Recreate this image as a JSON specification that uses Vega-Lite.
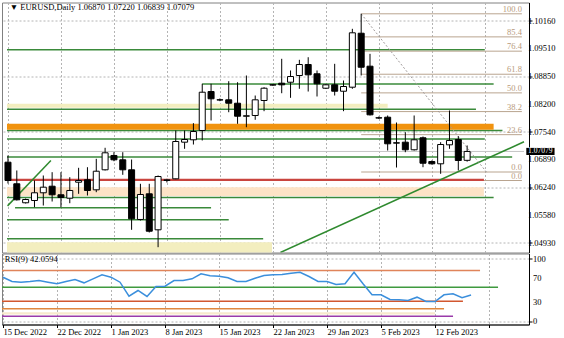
{
  "$schema": "https://vega.github.io/schema/vega-lite/v6.json",
  "padding": {"left": -1, "top": 1.5, "right": 0, "bottom": 0},
  "background": "white",
  "spacing": 1,
  "bounds": "flush",
  "config": {
    "view": {"stroke": "#808080", "strokeWidth": 1},
    "axis": {"labelFont": "Liberation Sans Narrow", "labelFontSize": 8.5, "labelColor": "#000000", "tickColor": "#000000", "domainColor": "#000000", "gridColor": "#b4b4b4", "gridDash": [2, 2], "gridWidth": 1, "title": null, "labelOverlap": false, "labelFlush": false},
    "text": {"font": "Liberation Sans Narrow"}
  },
  "datasets": {
    "candles": [
      {"bar": 0, "open": 1.06826, "high": 1.06984, "low": 1.06325, "close": 1.06395},
      {"bar": 1, "open": 1.06318, "high": 1.06631, "low": 1.05925, "close": 1.05941},
      {"bar": 2, "open": 1.05871, "high": 1.05972, "low": 1.05854, "close": 1.05948},
      {"bar": 3, "open": 1.05925, "high": 1.06395, "low": 1.05767, "close": 1.06106},
      {"bar": 4, "open": 1.06106, "high": 1.06513, "low": 1.05807, "close": 1.06238},
      {"bar": 5, "open": 1.06261, "high": 1.06591, "low": 1.05901, "close": 1.06059},
      {"bar": 6, "open": 1.06059, "high": 1.06591, "low": 1.05767, "close": 1.05995},
      {"bar": 7, "open": 1.05979, "high": 1.06473, "low": 1.05861, "close": 1.06160},
      {"bar": 8, "open": 1.06355, "high": 1.06694, "low": 1.06082, "close": 1.06395},
      {"bar": 9, "open": 1.06412, "high": 1.06708, "low": 1.06042, "close": 1.06160},
      {"bar": 10, "open": 1.06176, "high": 1.06906, "low": 1.06120, "close": 1.06614},
      {"bar": 11, "open": 1.06647, "high": 1.07165, "low": 1.06631, "close": 1.07047},
      {"bar": 12, "open": 1.06984, "high": 1.07061, "low": 1.06849, "close": 1.06882},
      {"bar": 13, "open": 1.06882, "high": 1.07061, "low": 1.06529, "close": 1.06647},
      {"bar": 14, "open": 1.06647, "high": 1.06889, "low": 1.05235, "close": 1.05494},
      {"bar": 15, "open": 1.05478, "high": 1.06318, "low": 1.05454, "close": 1.06066},
      {"bar": 16, "open": 1.06082, "high": 1.06318, "low": 1.05172, "close": 1.05202},
      {"bar": 17, "open": 1.05235, "high": 1.06513, "low": 1.04826, "close": 1.06489},
      {"bar": 18, "open": 1.06395, "high": 1.06435, "low": 1.06348, "close": 1.06412},
      {"bar": 19, "open": 1.06435, "high": 1.07572, "low": 1.06425, "close": 1.07313},
      {"bar": 20, "open": 1.07297, "high": 1.07572, "low": 1.07141, "close": 1.07360},
      {"bar": 21, "open": 1.07353, "high": 1.07744, "low": 1.07242, "close": 1.07548},
      {"bar": 22, "open": 1.07572, "high": 1.08671, "low": 1.07337, "close": 1.08473},
      {"bar": 23, "open": 1.08489, "high": 1.08671, "low": 1.07807, "close": 1.08318},
      {"bar": 24, "open": 1.08294, "high": 1.08325, "low": 1.08262, "close": 1.08290},
      {"bar": 25, "open": 1.08294, "high": 1.08732, "low": 1.08002, "close": 1.08214},
      {"bar": 26, "open": 1.08214, "high": 1.08708, "low": 1.07729, "close": 1.07908},
      {"bar": 27, "open": 1.07908, "high": 1.08866, "low": 1.07649, "close": 1.07918},
      {"bar": 28, "open": 1.07925, "high": 1.08395, "low": 1.07824, "close": 1.08294},
      {"bar": 29, "open": 1.08278, "high": 1.08591, "low": 1.08026, "close": 1.08567},
      {"bar": 30, "open": 1.08640, "high": 1.08665, "low": 1.08625, "close": 1.08650},
      {"bar": 31, "open": 1.08685, "high": 1.09259, "low": 1.08449, "close": 1.08647},
      {"bar": 32, "open": 1.08708, "high": 1.08984, "low": 1.08341, "close": 1.08842},
      {"bar": 33, "open": 1.08866, "high": 1.09235, "low": 1.08553, "close": 1.09125},
      {"bar": 34, "open": 1.09125, "high": 1.09296, "low": 1.08489, "close": 1.08882},
      {"bar": 35, "open": 1.08906, "high": 1.08984, "low": 1.08372, "close": 1.08671},
      {"bar": 36, "open": 1.08567, "high": 1.08665, "low": 1.08548, "close": 1.08647},
      {"bar": 37, "open": 1.08647, "high": 1.09141, "low": 1.08395, "close": 1.08496},
      {"bar": 38, "open": 1.08496, "high": 1.08748, "low": 1.08026, "close": 1.08607},
      {"bar": 39, "open": 1.08591, "high": 1.09965, "low": 1.08553, "close": 1.09871},
      {"bar": 40, "open": 1.09861, "high": 1.10318, "low": 1.08866, "close": 1.09061},
      {"bar": 41, "open": 1.09085, "high": 1.09376, "low": 1.07925, "close": 1.07941},
      {"bar": 42, "open": 1.07871, "high": 1.07901, "low": 1.07842, "close": 1.07865},
      {"bar": 43, "open": 1.07885, "high": 1.07925, "low": 1.07101, "close": 1.07259},
      {"bar": 44, "open": 1.07282, "high": 1.07760, "low": 1.06701, "close": 1.07275},
      {"bar": 45, "open": 1.07297, "high": 1.07532, "low": 1.07061, "close": 1.07118},
      {"bar": 46, "open": 1.07118, "high": 1.07925, "low": 1.07101, "close": 1.07353},
      {"bar": 47, "open": 1.07400, "high": 1.07431, "low": 1.06708, "close": 1.06802},
      {"bar": 48, "open": 1.06842, "high": 1.06866, "low": 1.06772, "close": 1.06788},
      {"bar": 49, "open": 1.06788, "high": 1.07297, "low": 1.06553, "close": 1.07242},
      {"bar": 50, "open": 1.07235, "high": 1.08042, "low": 1.07141, "close": 1.07337},
      {"bar": 51, "open": 1.07360, "high": 1.07438, "low": 1.06631, "close": 1.06866},
      {"bar": 52, "open": 1.06870, "high": 1.07220, "low": 1.06839, "close": 1.07079}
    ],
    "zones": [
      {"kind": "pale", "from": -0.11, "to": 43, "top": 1.08200, "bottom": 1.08106},
      {"kind": "orange", "from": -0.11, "to": 55, "top": 1.07729, "bottom": 1.07588},
      {"kind": "peach", "from": -0.11, "to": 53.9, "top": 1.06238, "bottom": 1.06031},
      {"kind": "pale", "from": -0.11, "to": 29.9, "top": 1.04944, "bottom": 1.04701}
    ],
    "levels": [
      {"kind": "green", "from": -0.11, "to": 54, "price": 1.09471},
      {"kind": "green", "from": 22, "to": 55, "price": 1.08666},
      {"kind": "green", "from": -0.11, "to": 53, "price": 1.08071},
      {"kind": "green", "from": -0.11, "to": 56, "price": 1.07572},
      {"kind": "green", "from": -0.11, "to": 54, "price": 1.07372},
      {"kind": "green", "from": -0.11, "to": 57.1, "price": 1.06948},
      {"kind": "green", "from": -0.11, "to": 55, "price": 1.05995},
      {"kind": "green", "from": 0.8, "to": 23, "price": 1.05753},
      {"kind": "green", "from": -0.11, "to": 25, "price": 1.05471},
      {"kind": "green", "from": -0.11, "to": 28.9, "price": 1.05024},
      {"kind": "bid", "from": -0.11, "to": 58.44, "price": 1.07079},
      {"kind": "red", "from": -0.11, "to": 53.9, "price": 1.06412}
    ],
    "fib": [
      {"label": "100.0", "price": 1.10318},
      {"label": "85.4", "price": 1.09775},
      {"label": "76.4", "price": 1.09439},
      {"label": "61.8", "price": 1.08896},
      {"label": "50.0", "price": 1.08457},
      {"label": "38.2", "price": 1.08017},
      {"label": "23.6", "price": 1.07474},
      {"label": "0.0", "price": 1.06595},
      {"label": "0.0", "price": 1.06395}
    ],
    "trends": [
      {"kind": "trend", "from": -0.05, "to": 4.86, "p1": 1.05798, "p2": 1.06866},
      {"kind": "trend", "from": 30.85, "to": 58.44, "p1": 1.04701, "p2": 1.07306},
      {"kind": "fibline", "from": 40, "to": 54.2, "p1": 1.10318, "p2": 1.06591}
    ],
    "priceTicks": [
      {"price": 1.0493}, {"price": 1.0558}, {"price": 1.0624}, {"price": 1.0689}, {"price": 1.0754},
      {"price": 1.082}, {"price": 1.0885}, {"price": 1.0951}, {"price": 1.1016}
    ],
    "rsiTicks": [
      {"value": 0}, {"value": 30}, {"value": 70}, {"value": 100}
    ],
    "rsi": [
      {"bar": 0, "rsi": 70.5}, {"bar": 1, "rsi": 63.6}, {"bar": 2, "rsi": 62.5}, {"bar": 3, "rsi": 63.6},
      {"bar": 4, "rsi": 65.2}, {"bar": 5, "rsi": 62.5}, {"bar": 6, "rsi": 59.9}, {"bar": 7, "rsi": 63.6},
      {"bar": 8, "rsi": 66.8}, {"bar": 9, "rsi": 61.5}, {"bar": 10, "rsi": 67.9}, {"bar": 11, "rsi": 74.3},
      {"bar": 12, "rsi": 70.5}, {"bar": 13, "rsi": 62.5}, {"bar": 14, "rsi": 40.1}, {"bar": 15, "rsi": 49.2},
      {"bar": 16, "rsi": 39.6}, {"bar": 17, "rsi": 55.6}, {"bar": 18, "rsi": 56.1}, {"bar": 19, "rsi": 65.2},
      {"bar": 20, "rsi": 65.2}, {"bar": 21, "rsi": 67.9}, {"bar": 22, "rsi": 76.0}, {"bar": 23, "rsi": 72.8},
      {"bar": 24, "rsi": 72.1}, {"bar": 25, "rsi": 69.6}, {"bar": 26, "rsi": 63.6}, {"bar": 27, "rsi": 63.6},
      {"bar": 28, "rsi": 68.9}, {"bar": 29, "rsi": 73.2}, {"bar": 30, "rsi": 74.3}, {"bar": 31, "rsi": 74.8},
      {"bar": 32, "rsi": 76.9}, {"bar": 33, "rsi": 78.5}, {"bar": 34, "rsi": 71.6}, {"bar": 35, "rsi": 63.6},
      {"bar": 36, "rsi": 63.6}, {"bar": 37, "rsi": 58.8}, {"bar": 38, "rsi": 59.9}, {"bar": 39, "rsi": 78.5},
      {"bar": 40, "rsi": 59.9}, {"bar": 41, "rsi": 42.3}, {"bar": 42, "rsi": 42.3}, {"bar": 43, "rsi": 34.8},
      {"bar": 44, "rsi": 34.3}, {"bar": 45, "rsi": 33.2}, {"bar": 46, "rsi": 38.5}, {"bar": 47, "rsi": 31.6},
      {"bar": 48, "rsi": 31.6}, {"bar": 49, "rsi": 42.3}, {"bar": 50, "rsi": 43.9}, {"bar": 51, "rsi": 37.5},
      {"bar": 52, "rsi": 42.06}
    ],
    "rsiLevels": [
      {"kind": "high", "from": -0.11, "to": 53, "value": 81.2},
      {"kind": "mid", "from": -0.11, "to": 55, "value": 54.5},
      {"kind": "low1", "from": -0.11, "to": 51.1, "value": 32},
      {"kind": "low2", "from": -0.11, "to": 49, "value": 19.9},
      {"kind": "low3", "from": -0.11, "to": 50, "value": 8}
    ],
    "rsiZones": [
      {"from": -0.11, "to": 48, "top": 14.4, "bottom": 10.7}
    ]
  },
  "vconcat": [
    {
      "width": 527,
      "height": 250,
      "layer": [
        {
          "data": {"name": "zones"},
          "transform": [{"filter": "datum.kind == 'pale'"}],
          "mark": {"type": "rect", "color": "#f3eebf"},
          "encoding": {
            "x": {"field": "from", "type": "quantitative", "scale": {"domain": [-0.111, 58.44], "nice": false, "zero": false},
              "axis": {"values": [0,3,6,9,12,15,18,21,24,27,30,33,36,39,42,45,48,51,54,57], "labels": false, "ticks": false, "domain": false, "grid": true}},
            "x2": {"field": "to"},
            "y": {"field": "top", "type": "quantitative", "scale": {"domain": [1.04701, 1.10584], "nice": false, "zero": false},
              "axis": {"orient": "right", "values": [1.0493, 1.0558, 1.0624, 1.0689, 1.0754, 1.082, 1.0885, 1.0951, 1.1016], "labels": false, "grid": true, "tickSize": 3, "domain": true}},
            "y2": {"field": "bottom"}
          }
        },
        {
          "data": {"name": "zones"},
          "transform": [{"filter": "datum.kind == 'peach'"}],
          "mark": {"type": "rect", "color": "#fde3c6"},
          "encoding": {
            "x": {"field": "from", "type": "quantitative"},
            "x2": {"field": "to"},
            "y": {"field": "top", "type": "quantitative"},
            "y2": {"field": "bottom"}
          }
        },
        {
          "data": {"name": "levels"},
          "transform": [{"filter": "datum.kind == 'green'"}],
          "mark": {"type": "rule", "color": "#3a8a3a", "strokeWidth": 1.5},
          "encoding": {
            "x": {"field": "from", "type": "quantitative"},
            "x2": {"field": "to"},
            "y": {"field": "price", "type": "quantitative"}
          }
        },
        {
          "data": {"name": "zones"},
          "transform": [{"filter": "datum.kind == 'orange'"}],
          "mark": {"type": "rect", "color": "#f1930f"},
          "encoding": {
            "x": {"field": "from", "type": "quantitative"},
            "x2": {"field": "to"},
            "y": {"field": "top", "type": "quantitative"},
            "y2": {"field": "bottom"}
          }
        },
        {
          "data": {"name": "levels"},
          "transform": [{"filter": "datum.kind == 'bid'"}],
          "mark": {"type": "rule", "color": "#c4c4c4", "strokeWidth": 1},
          "encoding": {
            "x": {"field": "from", "type": "quantitative"},
            "x2": {"field": "to"},
            "y": {"field": "price", "type": "quantitative"}
          }
        },
        {
          "data": {"name": "fib"},
          "mark": {"type": "rule", "color": "#b9a48f", "strokeWidth": 1},
          "encoding": {
            "x": {"datum": 40, "type": "quantitative"},
            "x2": {"datum": 58.2},
            "y": {"field": "price", "type": "quantitative"}
          }
        },
        {
          "data": {"name": "levels"},
          "transform": [{"filter": "datum.kind == 'red'"}],
          "mark": {"type": "rule", "color": "#c9453f", "strokeWidth": 2.2},
          "encoding": {
            "x": {"field": "from", "type": "quantitative"},
            "x2": {"field": "to"},
            "y": {"field": "price", "type": "quantitative"}
          }
        },
        {
          "data": {"name": "trends"},
          "transform": [{"filter": "datum.kind == 'trend'"}],
          "mark": {"type": "rule", "color": "#2f8a2f", "strokeWidth": 1.5, "clip": true},
          "encoding": {
            "x": {"field": "from", "type": "quantitative"},
            "x2": {"field": "to"},
            "y": {"field": "p1", "type": "quantitative"},
            "y2": {"field": "p2"}
          }
        },
        {
          "data": {"name": "trends"},
          "transform": [{"filter": "datum.kind == 'fibline'"}],
          "mark": {"type": "rule", "color": "#a09a9a", "strokeWidth": 1, "strokeDash": [2, 2]},
          "encoding": {
            "x": {"field": "from", "type": "quantitative"},
            "x2": {"field": "to"},
            "y": {"field": "p1", "type": "quantitative"},
            "y2": {"field": "p2"}
          }
        },
        {
          "data": {"name": "fib"},
          "mark": {"type": "text", "align": "right", "baseline": "bottom", "dy": 0, "fontSize": 8.5, "color": "#b89a7c"},
          "encoding": {
            "x": {"datum": 58.2, "type": "quantitative"},
            "y": {"field": "price", "type": "quantitative"},
            "text": {"field": "label"}
          }
        },
        {
          "data": {"name": "candles"},
          "mark": {"type": "rule", "color": "#000000", "strokeWidth": 1, "clip": true},
          "encoding": {
            "x": {"field": "bar", "type": "quantitative"},
            "y": {"field": "low", "type": "quantitative"},
            "y2": {"field": "high"}
          }
        },
        {
          "data": {"name": "candles"},
          "mark": {"type": "bar", "width": 6, "stroke": "#000000", "strokeWidth": 1, "clip": true},
          "encoding": {
            "x": {"field": "bar", "type": "quantitative"},
            "y": {"field": "open", "type": "quantitative"},
            "y2": {"field": "close"},
            "fill": {"condition": {"test": "datum.close >= datum.open", "value": "#ffffff"}, "value": "#000000"}
          }
        },
        {
          "data": {"values": [{"bar": 0.2, "price": 1.10478, "label": "▼ EURUSD,Daily  1.06870 1.07220 1.06839 1.07079"}]},
          "mark": {"type": "text", "align": "left", "baseline": "middle", "fontSize": 8.5, "color": "#000000"},
          "encoding": {
            "x": {"field": "bar", "type": "quantitative"},
            "y": {"field": "price", "type": "quantitative"},
            "text": {"field": "label"}
          }
        },
        {
          "data": {"name": "priceTicks"},
          "mark": {"type": "text", "align": "left", "baseline": "middle", "fontSize": 8.5, "color": "#000000"},
          "encoding": {
            "x": {"datum": 58.89, "type": "quantitative"},
            "y": {"field": "price", "type": "quantitative"},
            "text": {"field": "price", "format": ".5f"}
          }
        },
        {
          "data": {"values": [{"from": 58.7, "to": 61.9, "top": 1.07163, "bottom": 1.06995}]},
          "mark": {"type": "rect", "color": "#000000"},
          "encoding": {
            "x": {"field": "from", "type": "quantitative"},
            "x2": {"field": "to"},
            "y": {"field": "top", "type": "quantitative"},
            "y2": {"field": "bottom"}
          }
        },
        {
          "data": {"values": [{"bar": 58.9, "price": 1.07084, "label": "1.07079"}]},
          "mark": {"type": "text", "align": "left", "baseline": "middle", "fontSize": 7.5, "color": "#ffffff"},
          "encoding": {
            "x": {"field": "bar", "type": "quantitative"},
            "y": {"field": "price", "type": "quantitative"},
            "text": {"field": "label"}
          }
        }
      ]
    },
    {
      "width": 527,
      "height": 71,
      "layer": [
        {
          "data": {"name": "rsiZones"},
          "mark": {"type": "rect", "color": "#f7e9cc"},
          "encoding": {
            "x": {"field": "from", "type": "quantitative", "scale": {"domain": [-0.111, 58.44], "nice": false, "zero": false},
              "axis": {"values": [0,3,6,9,12,15,18,21,24,27,30,33,36,39,42,45,48,51,54,57], "grid": true, "tickSize": 3, "labelPadding": 0, "labelAlign": "left", "labelBaseline": "top", "labelDx": -1,
                "labelExpr": "datum.value==0?'15 Dec 2022':datum.value==6?'22 Dec 2022':datum.value==12?'1 Jan 2023':datum.value==18?'8 Jan 2023':datum.value==24?'15 Jan 2023':datum.value==30?'22 Jan 2023':datum.value==36?'29 Jan 2023':datum.value==42?'5 Feb 2023':datum.value==48?'12 Feb 2023':''"}},
            "x2": {"field": "to"},
            "y": {"field": "top", "type": "quantitative", "scale": {"domain": [-5.3, 108.5], "nice": false, "zero": false},
              "axis": {"orient": "right", "values": [0, 30, 70, 100], "labels": false, "grid": true, "tickSize": 3}},
            "y2": {"field": "bottom"}
          }
        },
        {
          "data": {"name": "rsiLevels"},
          "transform": [{"filter": "datum.kind == 'high'"}],
          "mark": {"type": "rule", "strokeWidth": 1.5, "color": "#e0845a"},
          "encoding": {"x": {"field": "from", "type": "quantitative"}, "x2": {"field": "to"}, "y": {"field": "value", "type": "quantitative"}}
        },
        {
          "data": {"name": "rsiLevels"},
          "transform": [{"filter": "datum.kind == 'mid'"}],
          "mark": {"type": "rule", "strokeWidth": 1.5, "color": "#3f9a3f"},
          "encoding": {"x": {"field": "from", "type": "quantitative"}, "x2": {"field": "to"}, "y": {"field": "value", "type": "quantitative"}}
        },
        {
          "data": {"name": "rsiLevels"},
          "transform": [{"filter": "datum.kind == 'low1'"}],
          "mark": {"type": "rule", "strokeWidth": 1.5, "color": "#d2572f"},
          "encoding": {"x": {"field": "from", "type": "quantitative"}, "x2": {"field": "to"}, "y": {"field": "value", "type": "quantitative"}}
        },
        {
          "data": {"name": "rsiLevels"},
          "transform": [{"filter": "datum.kind == 'low2'"}],
          "mark": {"type": "rule", "strokeWidth": 1.5, "color": "#e0873e"},
          "encoding": {"x": {"field": "from", "type": "quantitative"}, "x2": {"field": "to"}, "y": {"field": "value", "type": "quantitative"}}
        },
        {
          "data": {"name": "rsiLevels"},
          "transform": [{"filter": "datum.kind == 'low3'"}],
          "mark": {"type": "rule", "strokeWidth": 1.5, "color": "#9a3aaa"},
          "encoding": {"x": {"field": "from", "type": "quantitative"}, "x2": {"field": "to"}, "y": {"field": "value", "type": "quantitative"}}
        },
        {
          "data": {"name": "rsi"},
          "mark": {"type": "line", "color": "#3b8fdc", "strokeWidth": 1.5},
          "encoding": {
            "x": {"field": "bar", "type": "quantitative"},
            "y": {"field": "rsi", "type": "quantitative"}
          }
        },
        {
          "data": {"name": "rsiTicks"},
          "mark": {"type": "text", "align": "left", "baseline": "middle", "fontSize": 8.5, "color": "#000000"},
          "encoding": {
            "x": {"datum": 58.89, "type": "quantitative"},
            "y": {"field": "value", "type": "quantitative"},
            "text": {"field": "value"}
          }
        },
        {
          "data": {"values": [{"bar": 0.2, "rsi": 99, "label": "RSI(9) 42.0594"}]},
          "mark": {"type": "text", "align": "left", "baseline": "middle", "fontSize": 8.5, "color": "#000000"},
          "encoding": {
            "x": {"field": "bar", "type": "quantitative"},
            "y": {"field": "rsi", "type": "quantitative"},
            "text": {"field": "label"}
          }
        }
      ]
    }
  ],
  "resolve": {"scale": {"x": "independent", "y": "independent"}}
}
